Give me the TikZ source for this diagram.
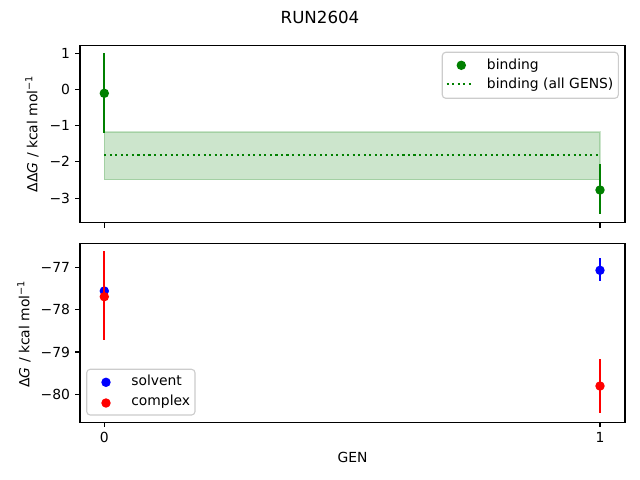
\documentclass[tikz,border=0pt]{standalone}
\usepackage{fontspec}
\setmainfont{DejaVu Sans}
\definecolor{mplgreen}{HTML}{008000}
\definecolor{mplblue}{HTML}{0000FF}
\definecolor{mplred}{HTML}{FF0000}
\tikzset{
  axisframe/.style={draw=black, line width=0.8pt},
  tickmark/.style={draw=black, line width=0.8pt},
  errbar/.style={line width=1.5pt},
  dot/.style={circle, inner sep=0pt, minimum size=6.8pt, draw=none},
  lab/.style={font=\fontsize{10}{12}\selectfont, inner sep=0pt},
  legendbox/.style={draw=black!20, fill=white, fill opacity=0.8, rounded corners=2.5pt, line width=0.8pt},
  bandfill/.style={fill=mplgreen, fill opacity=0.2, draw=mplgreen, draw opacity=0.2, line width=1pt},
  dotline/.style={draw=mplgreen, line width=1.5pt, dash pattern=on 1.5pt off 2.475pt}
}
\begin{document}
\begin{tikzpicture}[x=0.72pt,y=-0.72pt]
\useasboundingbox[fill=white] (0,0) rectangle (640,480);
% title
\node[lab, font=\fontsize{12}{14}\selectfont] (title) at (320,17) {RUN2604};

% ================= top panel =================
\fill[bandfill] (104.3,132) rectangle (600,179.7);
\draw[dotline] (104.3,155) -- (600,155);
\draw[errbar, mplgreen] (104.3,53.3) -- (104.3,133.3);
\draw[errbar, mplgreen] (600,164) -- (600,214.3);
\node[dot, fill=mplgreen] (b0) at (104.3,93.3) {};
\node[dot, fill=mplgreen] (b1) at (600,190) {};
\draw[axisframe] (80,45.3) rectangle (625,222.7);
% x ticks (no labels)
\foreach \xx in {104.3,600} \draw[tickmark] (\xx,222.7) -- ++(0,4.9);
% y ticks
\foreach \yy/\tl in {53.3/1, 89.3/0, 125.6/−1, 161.8/−2, 198.1/−3} {
  \draw[tickmark] (80,\yy) -- ++(-4.9,0);
  \node[lab, anchor=east] at (70.3,\yy) {\tl};
}
\node[lab, rotate=90] (ylab1) at (32,133.7) {ΔΔ\textit{G} / kcal mol\textsuperscript{−1}};
% legend top
\draw[legendbox] (442.3,52.3) rectangle (618.3,98.3);
\node[dot, fill=mplgreen] (lb) at (461.3,65.3) {};
\draw[dotline] (446.7,84) -- (474,84);
\node[lab, anchor=mid west] (lbt) at (486.7,65.5) {binding};
\node[lab, anchor=mid west] (lbt2) at (486.7,84.5) {binding (all GENS)};

% ================= bottom panel =================
\draw[errbar, mplblue] (600,258.3) -- (600,280.7);
\node[dot, fill=mplblue] (s0) at (104.3,291) {};
\node[dot, fill=mplblue] (s1) at (600,270.3) {};
\draw[errbar, mplred] (104.3,251) -- (104.3,340.3);
\draw[errbar, mplred] (600,359) -- (600,413.3);
\node[dot, fill=mplred] (c0) at (104.3,296.7) {};
\node[dot, fill=mplred] (c1) at (600,386) {};
\draw[axisframe] (80,243.3) rectangle (625,422.3);
\foreach \xx/\tl in {104.3/0,600/1} {
  \draw[tickmark] (\xx,422.3) -- ++(0,4.9);
  \node[lab] at (\xx,437.5) {\tl};
}
\foreach \yy/\tl in {267.3/−77, 309.7/−78, 352.0/−79, 394.4/−80} {
  \draw[tickmark] (80,\yy) -- ++(-4.9,0);
  \node[lab, anchor=east] at (70.3,\yy) {\tl};
}
\node[lab, rotate=90] (ylab2) at (24,334) {Δ\textit{G} / kcal mol\textsuperscript{−1}};
\node[lab] (xlab) at (352.5,457) {GEN};
% legend bottom
\draw[legendbox] (86.7,369.3) rectangle (195,415);
\node[dot, fill=mplblue] (ls) at (106,382.3) {};
\node[dot, fill=mplred] (lc) at (106,403) {};
\node[lab, anchor=mid west] (lst) at (131,381.5) {solvent};
\node[lab, anchor=mid west] (lct) at (131,402) {complex};
\end{tikzpicture}
\end{document}
